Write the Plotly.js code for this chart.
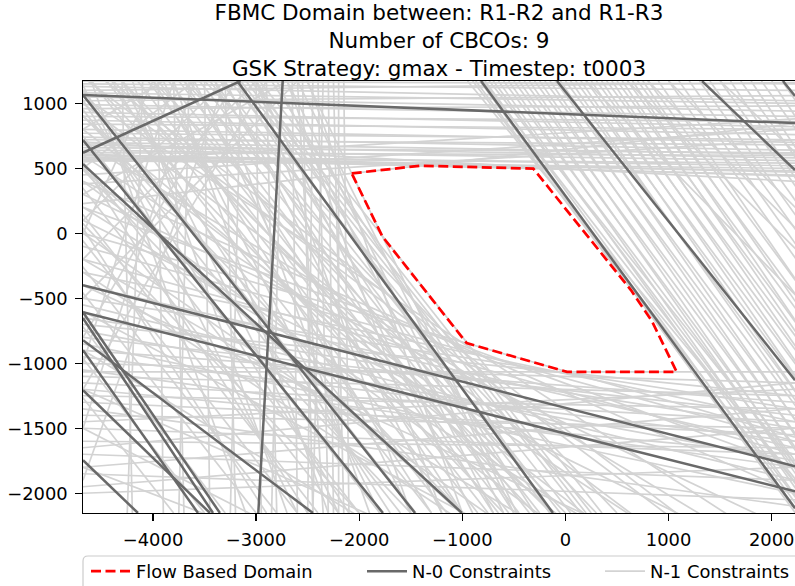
<!DOCTYPE html>
<html>
<head>
<meta charset="utf-8">
<script src="https://cdn.plot.ly/plotly-3.0.1.min.js"></script>
<style>html,body{margin:0;padding:0;background:#fff}#chart{width:795px;height:586px}</style>
</head>
<body>
<div id="chart"></div>
<script>
// ---------------- data ----------------
const titleLines = [
  "FBMC Domain between: R1-R2 and R1-R3",
  "Number of CBCOs: 9",
  "GSK Strategy: gmax - Timestep: t0003"
];
const xTicks = [-4000, -3000, -2000, -1000, 0, 1000, 2000];
const yTicks = [-2000, -1500, -1000, -500, 0, 500, 1000];
const xRange = [-4679, 2226];
const yRange = [-2152, 1172];

// Flow based domain (vertices, R1-R2 vs R1-R3)
const domainX = [-2073, -1411, -312, 635, 839, 1078, 15, -958, -1775, -2073];
const domainY = [461, 520, 498, -437, -676, -1066, -1066, -845, -25, 461];

// N-0 constraints: [x0, y0, x1, y1]
const n0Lines = [
  [-4679, 1064, 2226, 848],
  [-4679, 620, -3151, 1172],
  [-3183, 1172, -121, -2152],
  [-2742, 1172, -2979, -2152],
  [-4679, 1064, -1459, -2152],
  [-4679, 717, -1770, -2152],
  [-4679, 533, -1004, -2152],
  [-4679, -399, 2226, -1792],
  [-4679, -607, 2226, -1985],
  [-4679, -822, -2449, -2152],
  [-4679, -899, -3564, -2152],
  [-4679, -1207, -3448, -2152],
  [-4679, -1746, -4146, -2152],
  [-4679, -607, -3351, -2152],
  [-4679, -653, -3418, -2152],
  [-819, 1172, 2226, -2115],
  [-82, 1172, 2226, -1130],
  [1324, 1172, 2226, 487],
  [2109, 1172, 2226, 1056]
];

// N-1 constraints, shallow: [y at left edge, y at right edge]
const n1ShallowTop = [
  [1170,1150],[1150,1100],[1130,1020],[1100,1160],[1080,1000],[1050,940],[1020,1060],[990,900],
  [960,980],[930,820],[900,860],[870,760],[840,800],[800,700],[770,720],[740,640],
  [720,680],[700,610],[680,580],[660,620],[640,560],[620,600],[600,520],[600,470],
  [580,540],[570,480],[560,500],[610,440],[700,400],[229,844],[585,447],[380,720],
  [450,800],[550,880]
];
const n1ShallowLow = [
  [0,-1568],[-1066,-1066],[-100,-1600],[-200,-1700],[-300,-1450],[-400,-1650],[-500,-1350],
  [-550,-1900],[-650,-1500],[-700,-1250],[-750,-1750],[-800,-1400],[-850,-2000],[-900,-1300],
  [-950,-1600],[-1000,-1150],[-1050,-1800],[-1100,-1250],[-1150,-1450],[-1200,-1700],
  [-1250,-1350],[-1300,-1550],[-1350,-2100],[-1400,-1500],[-1450,-1200],[-1500,-1700],
  [-1600,-1650],[-1650,-1150],[-1700,-1900],[-1800,-1350],[-1850,-2050],[-1950,-1500],
  [-2000,-1800],
  [1300,-2843],[1200,-2900],[1050,-2500],[1000,-3100],[800,-3400],[700,-2600],[600,-3000],
  [400,-2000],[400,-3600],[300,-2300],[200,-1800],[200,-3200],[100,-2600],[0,-3800],
  [-200,-3400],[-300,-3900],[-600,-3500],[-900,-4200],[-1200,-3600],[500,-4500],[1400,-4000],
  [-1500,-4300],[-1800,-3900],[-400,-2900],[900,-3700]
];
// N-1 constraints, steep: [x at top edge, x at bottom edge]
const n1SteepRight = [
  [-950,2500],[-900,2350],[-870,2260],[-830,2230],[-800,2450],[-780,2300],[-740,2600],[-700,2450],
  [-650,2350],[-600,2550],[-550,2400],[-500,2600],[-450,2500],[-400,2700],[-350,2550],[-300,2800],
  [-250,2650],[-200,2900],[-150,2750],[-100,3000],[-50,2850],[0,3100],[50,3000],[100,3200],
  [150,3050],[200,3300],[250,3150],[300,3400],[350,3250],[400,3500],[450,3350],[500,3600],
  [550,3450],[600,3700],[650,3500],[700,3800],[750,3650],[800,3900],[900,3800],[1000,4000],
  [1100,4100],[1200,4200],[1300,4300],[1400,4400],[1500,4500],[1600,4400],[1700,4700],[1800,4600],
  [1900,4900],[2000,4800],[2100,5000],[1000,5200],[1500,5900],[600,4800],[200,4300],[800,5000]
];
const n1SteepLeft = [
  [-3050,250],[-3100,200],[-3150,150],[-3250,50],[-3350,-50],[-3450,-150],[-3550,-250],[-3650,-350],
  [-3750,-450],[-3850,-550],[-3950,-650],[-4050,-750],[-4150,-850],[-4300,-1000],[-4450,-1150],
  [-4600,-1300],[-4750,-1450],[-4900,-1600],[-5100,-1800],[-5300,-2000],[-5500,-2200],[-5700,-2400],
  [-5900,-2600],[-6100,-2800],[-6300,-3000],[-6500,-3300],[-6800,-3500],[-7100,-3800],
  [-2850,-150],[-3000,-300],[-3200,-500],[-3400,-700],[-3700,-1000],[-4000,-1300],[-4400,-1700],
  [-4800,-2100],[-5200,-2500],[-5600,-2900],
  [-2509,-471],[-2600,-500],[-2700,-600],[-2800,-700],[-3000,-900],[-3300,-1200],[-3600,-1500],
  [-3900,-1800],[-4300,-2200],[-4700,-2600],
  [-3500,500],[-3700,300],[-4000,0],[-4300,-300],[-4600,-600],[-5000,-1000],[-5500,-1500],[-6000,-2000],
  [-2967,354],
  [-2500,-1000],[-2700,-1200],[-3000,-1500],[-3400,-1900],[-3800,-2300],[-4200,-2700],[-4600,-3100]
];
const n1NearVertical = [
  [-4300,-4200],[-4100,-4250],[-3950,-3900],[-3800,-3700],[-3650,-3750],[-3500,-3450],[-3300,-3200],
  [-3150,-3250],[-3000,-2950],[-2900,-2800],[-2750,-2850],[-2650,-2600],[-2550,-2450],[-2450,-2500],
  [-2400,-2300],[-2300,-2250],[-2250,-2150],[-2200,-2200],[-2150,-2100],[-2600,-2350],[-2350,-2450]
];
// N-1 constraints rising: [y at left edge, x at top edge]
const n1Rising = [
  [-200,-3000],[100,-3300],[300,-2700],[500,-3600],[-500,-2600],[-800,-3200],
  [-1200,-2900],[-1500,-3600],[-1900,-3300],[800,-3900],[-1000,-3800],[0,-4000]
];

// ---------------- build ----------------
function pushSeg(acc, x0, y0, x1, y1) {
  acc.x.push(x0, x1, null);
  acc.y.push(y0, y1, null);
}
const n1 = {x: [], y: []};
[n1ShallowTop, n1ShallowLow].forEach(list => list.forEach(([yl, yr]) => pushSeg(n1, xRange[0], yl, xRange[1], yr)));
[n1SteepRight, n1SteepLeft, n1NearVertical].forEach(list => list.forEach(([xt, xb]) => pushSeg(n1, xt, yRange[1], xb, yRange[0])));
n1Rising.forEach(([yl, xt]) => pushSeg(n1, xRange[0], yl, xt, yRange[1]));

const n0 = {x: [], y: []};
n0Lines.forEach(([x0, y0, x1, y1]) => pushSeg(n0, x0, y0, x1, y1));

const fmt = v => (v < 0 ? "\u2212" + Math.abs(v) : String(v));

const traces = [
  {type: "scatter", mode: "lines", x: n1.x, y: n1.y, name: "N-1 Constraints", legend: "legend3",
   line: {color: "#d3d3d3", width: 1.7}, hoverinfo: "skip"},
  {type: "scatter", mode: "lines", x: n0.x, y: n0.y, name: "N-0 Constraints", legend: "legend2",
   line: {color: "#696969", width: 2.5}, hoverinfo: "skip"},
  {type: "scatter", mode: "lines", x: domainX, y: domainY, name: "Flow Based Domain", legend: "legend",
   line: {color: "#ff0000", width: 2.7, dash: "10px,4.5px"}}
];

// geometry helpers (pixel -> paper) for the plot area 83..795 x 81..513
const PX = p => (p - 83) / 712;
const PY = p => (513 - p) / 432;

const axisCommon = {
  showgrid: false, zeroline: false, showline: true, linecolor: "#000", linewidth: 1.4,
  ticks: "outside", ticklen: 6.3, tickwidth: 1.4, tickcolor: "#000",
  tickfont: {family: "DejaVu Sans", size: 17.9, color: "#000"}, ticklabelstandoff: 4
};
const legendCommon = {
  orientation: "h", xref: "paper", yref: "paper", xanchor: "left", yanchor: "top",
  y: PY(553), bgcolor: "rgba(0,0,0,0)", borderwidth: 0, itemwidth: 40,
  font: {family: "DejaVu Sans", size: 17.9, color: "#000"}
};
const boxPath = "M" + PX(83) + "," + PY(600) + " L" + PX(83) + "," + PY(561) +
  " Q" + PX(83) + "," + PY(556) + " " + PX(88) + "," + PY(556) +
  " L" + PX(850) + "," + PY(556) + " L" + PX(850) + "," + PY(600) + " Z";

const layout = {
  width: 795, height: 586,
  margin: {l: 83, r: 0, t: 81, b: 73, pad: 0, autoexpand: false},
  paper_bgcolor: "#fff", plot_bgcolor: "#fff",
  font: {family: "DejaVu Sans", size: 17.9, color: "#000"},
  title: {
    text: titleLines.join("<br>"),
    x: 0.5, xref: "paper", xanchor: "center",
    y: 1 - 20 / 586, yref: "container", yanchor: "middle",
    font: {family: "DejaVu Sans", size: 21.5, color: "#000"}
  },
  xaxis: Object.assign({}, axisCommon, {range: xRange, tickvals: xTicks, ticktext: xTicks.map(fmt), mirror: true}),
  yaxis: Object.assign({}, axisCommon, {range: yRange, tickvals: yTicks, ticktext: yTicks.map(fmt), mirror: false}),
  showlegend: true,
  legend: Object.assign({}, legendCommon, {x: PX(86)}),
  legend2: Object.assign({}, legendCommon, {x: PX(362)}),
  legend3: Object.assign({}, legendCommon, {x: PX(600)}),
  shapes: [{
    type: "path", xref: "paper", yref: "paper", path: boxPath, layer: "below",
    line: {color: "#cccccc", width: 1.2}, fillcolor: "rgba(255,255,255,0.8)"
  }]
};
Plotly.newPlot("chart", traces, layout, {staticPlot: true, displayModeBar: false});
</script>
</body>
</html>
